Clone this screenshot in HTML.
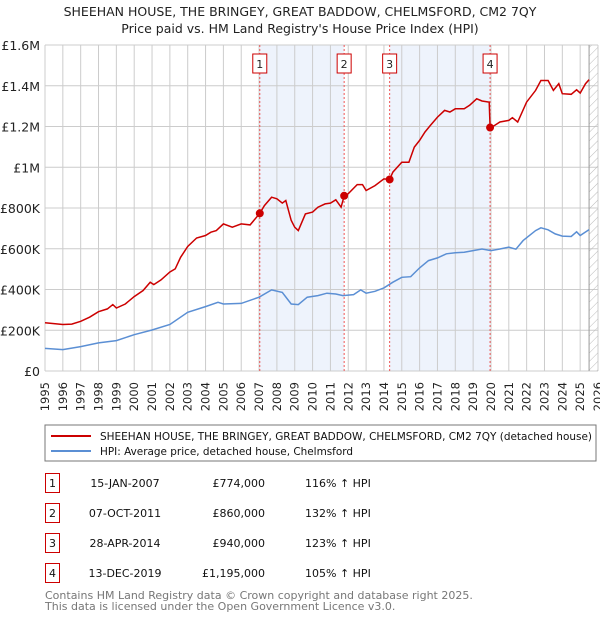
<!DOCTYPE html>
<html><head><meta charset="utf-8">
<style>
body{margin:0;background:#fff;font-family:"DejaVu Sans","Liberation Sans",sans-serif;}
svg text{font-family:"DejaVu Sans","Liberation Sans",sans-serif;}
</style></head>
<body>
<svg id="c" width="600" height="620" xmlns="http://www.w3.org/2000/svg">
<text x="300" y="16" text-anchor="middle" font-size="12.5" fill="#222">SHEEHAN HOUSE, THE BRINGEY, GREAT BADDOW, CHELMSFORD, CM2 7QY</text>
<text x="300" y="33" text-anchor="middle" font-size="12.5" fill="#222">Price paid vs. HM Land Registry's House Price Index (HPI)</text>
<defs><pattern id="hatch" width="6" height="6" patternUnits="userSpaceOnUse" patternTransform="rotate(45)"><line x1="0" y1="0" x2="0" y2="6" stroke="#bbb" stroke-width="1"/></pattern></defs>
<g id="plot"></g>
<rect x="45" y="425" width="551" height="36" fill="#fff" stroke="#777"/>
<line x1="51" y1="436" x2="91" y2="436" stroke="#cc0000" stroke-width="2"/>
<text x="100" y="440" font-size="11" fill="#111" textLength="492" lengthAdjust="spacingAndGlyphs">SHEEHAN HOUSE, THE BRINGEY, GREAT BADDOW, CHELMSFORD, CM2 7QY (detached house)</text>
<line x1="51" y1="451" x2="91" y2="451" stroke="#5b8fd4" stroke-width="2"/>
<text x="100" y="455" font-size="11" fill="#111" textLength="253" lengthAdjust="spacingAndGlyphs">HPI: Average price, detached house, Chelmsford</text>
<g id="table" font-size="11" fill="#111"></g>
<text x="45" y="599" font-size="11" fill="#777">Contains HM Land Registry data © Crown copyright and database right 2025.</text>
<text x="45" y="610" font-size="11" fill="#777">This data is licensed under the Open Government Licence v3.0.</text>
</svg>
<script>
const yearTicks=[1995,1996,1997,1998,1999,2000,2001,2002,2003,2004,2005,2006,2007,2008,2009,2010,2011,2012,2013,2014,2015,2016,2017,2018,2019,2020,2021,2022,2023,2024,2025,2026];
const yTicks=[0,200,400,600,800,1000,1200,1400,1600];
const yTickLabels=["£0","£200K","£400K","£600K","£800K","£1M","£1.2M","£1.4M","£1.6M"];
const redX=[1995,1996,1996.5,1997,1997.5,1998,1998.5,1998.8,1999,1999.5,2000,2000.5,2000.9,2001.1,2001.5,2002,2002.3,2002.6,2003,2003.5,2004,2004.3,2004.6,2005,2005.5,2006,2006.5,2007.04,2007.3,2007.7,2008,2008.3,2008.5,2008.8,2009,2009.2,2009.6,2010,2010.3,2010.7,2011,2011.3,2011.6,2011.77,2012,2012.5,2012.8,2013,2013.5,2014,2014.32,2014.5,2015,2015.4,2015.7,2016,2016.3,2016.6,2017,2017.4,2017.7,2018,2018.5,2018.8,2019.2,2019.5,2019.9,2019.95,2020.2,2020.5,2021,2021.2,2021.5,2022,2022.5,2022.8,2023.2,2023.5,2023.8,2024,2024.5,2024.8,2025,2025.3,2025.5];
const redY=[237,228,230,244,264,291,305,326,309,329,365,395,436,424,447,486,501,558,611,653,665,681,689,722,706,722,717,774,812,853,845,824,837,739,706,689,771,780,804,820,824,840,804,860,870,915,915,886,910,943,940,976,1025,1025,1099,1132,1173,1205,1246,1279,1271,1287,1287,1304,1336,1325,1320,1195,1205,1222,1230,1243,1222,1320,1377,1426,1426,1377,1410,1361,1358,1380,1364,1410,1430];
const hpiX=[1995,1996,1997,1998,1999,2000,2001,2002,2003,2004,2004.7,2005,2006,2007,2007.7,2008.3,2008.8,2009.2,2009.7,2010.3,2010.8,2011.3,2011.7,2012.3,2012.7,2013,2013.5,2014,2014.5,2015,2015.5,2016,2016.5,2017,2017.5,2018,2018.5,2019,2019.5,2020,2020.5,2021,2021.4,2021.8,2022.5,2022.8,2023.2,2023.6,2024,2024.5,2024.8,2025,2025.5];
const hpiY=[111,105,120,138,149,178,201,228,288,316,337,329,332,362,398,386,329,326,362,370,382,378,370,375,398,382,391,408,436,460,463,506,542,555,575,580,583,591,599,591,599,608,598,640,689,703,693,673,662,660,683,665,694];
const saleX=[2007.04,2011.77,2014.32,2019.95];
const saleY=[774,860,940,1195];
const saleLabels=["1","2","3","4"];
const saleDates=["15-JAN-2007","07-OCT-2011","28-APR-2014","13-DEC-2019"];
const salePrices=["£774,000","£860,000","£940,000","£1,195,000"];
const saleHpi=["116% ↑ HPI","132% ↑ HPI","123% ↑ HPI","105% ↑ HPI"];
const shadeRanges=[[2007.04,2011.77],[2014.32,2019.95]];
const dataEnd=2025.5;

const NS="http://www.w3.org/2000/svg";
const X0=45,X1=598,Y0=371,Y1=45;
const sx=v=>X0+(v-1995)/(2026-1995)*(X1-X0);
const sy=v=>Y0-v/1600*(Y0-Y1);
const plot=document.getElementById('plot');
function mk(tag,attrs,parent){const e=document.createElementNS(NS,tag);for(const k in attrs)e.setAttribute(k,attrs[k]);(parent||plot).appendChild(e);return e;}
shadeRanges.forEach(r=>{
  const e=mk('rect',{x:sx(r[0]),y:Y1,width:sx(r[1])-sx(r[0]),height:Y0-Y1,fill:'#eef3fc'});
  
  
});
yearTicks.forEach(y=>{
  const l=mk('line',{x1:sx(y),x2:sx(y),y1:Y1,y2:Y0,stroke:'#ccc','stroke-width':1});
  
  
  const tx=sx(y)+4, ty=Y0+11;
  const t=mk('text',{x:tx,y:ty,'text-anchor':'end','font-size':11.5,fill:'#222',transform:`rotate(-90 ${tx} ${ty})`});
  t.textContent=y;
  
  
});
yTicks.forEach((v,i)=>{
  const l=mk('line',{x1:X0,x2:X1,y1:sy(v),y2:sy(v),stroke:'#ccc','stroke-width':1});
  
  
  const t=mk('text',{x:X0-5,y:sy(v)+5,'text-anchor':'end','font-size':12.5,fill:'#222'});
  t.textContent=yTickLabels[i];
  
  
});
const h=mk('rect',{x:sx(dataEnd),y:Y1,width:X1-sx(dataEnd),height:Y0-Y1,fill:'url(#hatch)'});


const hl=mk('line',{x1:sx(dataEnd),x2:sx(dataEnd),y1:Y1,y2:Y0,stroke:'#999'});


saleX.forEach((x,i)=>{
  const l=mk('line',{x1:sx(x),x2:sx(x),y1:Y1,y2:Y0,stroke:'#e55','stroke-width':1,'stroke-dasharray':'2,2'});
  
  
});
const pts=(xs,ys)=>xs.map((x,i)=>sx(x).toFixed(1)+','+sy(ys[i]).toFixed(1)).join(' ');
const hp=mk('polyline',{points:pts(hpiX,hpiY),fill:'none',stroke:'#5b8fd4','stroke-width':1.5});


const rp=mk('polyline',{points:pts(redX,redY),fill:'none',stroke:'#cc0000','stroke-width':1.5});


saleX.forEach((x,i)=>{
  const c=mk('circle',{cx:sx(x),cy:sy(saleY[i]),r:4,fill:'#cc0000'});
  
  
  const b=mk('rect',{x:sx(x)-7,y:54,width:14,height:19,fill:'#fff',stroke:'#cc0000'});
  
  
  const t=mk('text',{x:sx(x),y:68,'text-anchor':'middle','font-size':11,fill:'#222'});
  t.textContent=saleLabels[i];
  
  
});
const tbl=document.getElementById('table');
saleLabels.forEach((s,i)=>{
  const cy=483+i*30;
  const b=mk('rect',{x:45.5,y:cy-9.5,width:14,height:19,fill:'#fff',stroke:'#cc0000'},tbl);
  
  
  const rows=[[52.5,'middle',s,'table-number'],[125,'middle',saleDates[i],'table-date'],[265,'end',salePrices[i],'table-price'],[305,'start',saleHpi[i],'table-hpi']];
  rows.forEach(r=>{
    const t=mk('text',{x:r[0],y:cy+4,'text-anchor':r[1]},tbl);
    t.textContent=r[2];
    
    
  });
});
</script>
</body></html>
